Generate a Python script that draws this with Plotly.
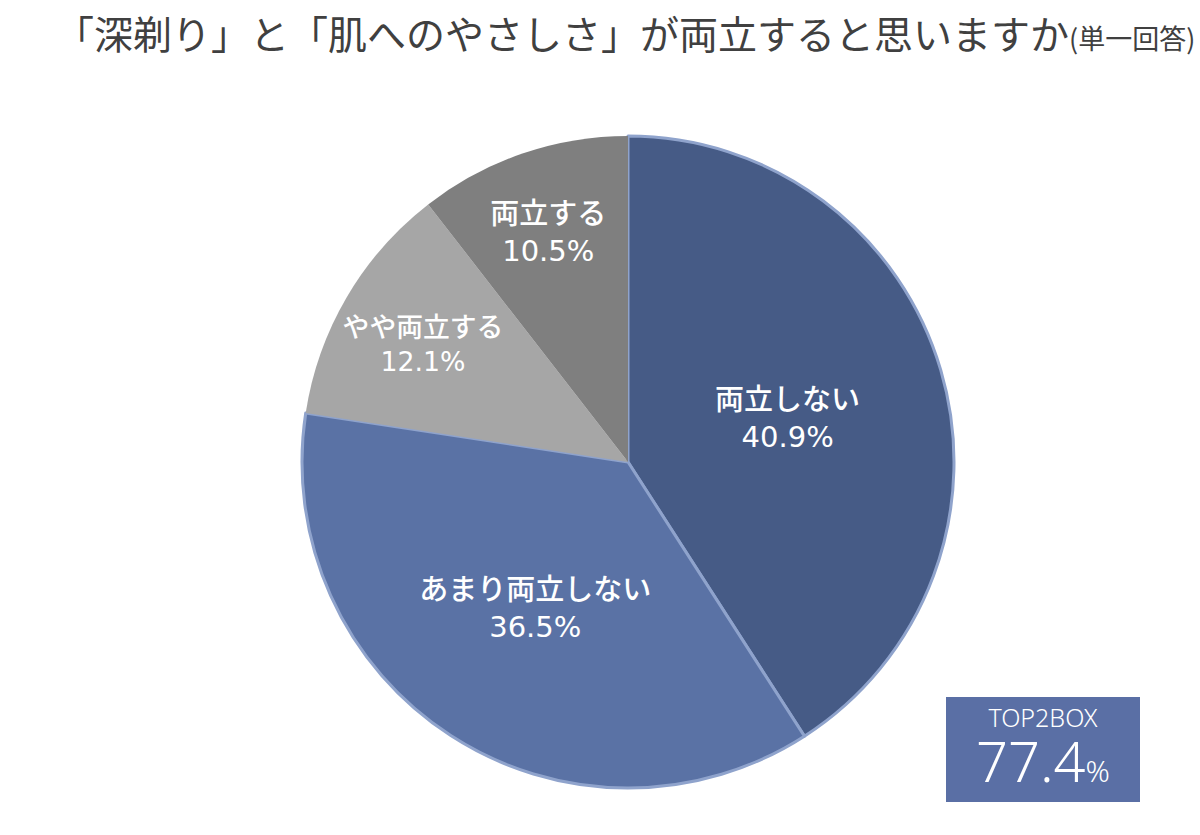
import plotly.graph_objects as go

labels = ["両立しない", "あまり両立しない", "やや両立する", "両立する"]
values = [40.9, 36.5, 12.1, 10.5]
colors = ["#465B86", "#5A72A5", "#A6A6A6", "#7F7F7F"]
line_colors = ["#8FA3CC", "#8FA3CC", "#A6A6A6", "#7F7F7F"]
line_widths = [3, 3, 0, 0]
title_main = "「深剃り」と「肌へのやさしさ」が両立すると思いますか"
title_sub = "(単一回答)"
top2_label = "TOP2BOX"
top2_value = "77.4"

FONT = "Noto Sans CJK JP"

texts = [f"{l}<br><span style='font-family:DejaVu Sans'>{v:.1f}%</span>"
         for l, v in zip(labels, values)]

fig = go.Figure(go.Pie(
    labels=labels,
    values=values,
    sort=False,
    direction="clockwise",
    rotation=0,
    marker=dict(colors=colors, line=dict(color=line_colors, width=line_widths)),
    text=texts,
    textinfo="text",
    textposition="inside",
    insidetextorientation="horizontal",
    textfont=dict(family=FONT, size=29, color="white", weight=500),
    hoverinfo="label+percent",
    domain=dict(x=[(628 - 326) / 1200, (628 + 326) / 1200],
                y=[(835 - 462 - 326) / 835, (835 - 462 + 326) / 835]),
    showlegend=False,
))

fig.add_annotation(
    x=0.521, y=1, xref="paper", yref="paper", xanchor="center", yanchor="top",
    yshift=-2,
    text=f"{title_main}<span style='font-size:27px'>{title_sub}</span>",
    showarrow=False,
    font=dict(family=FONT, size=39, color="#404040"),
)

cx = (946 + 1140) / 2 / 1200
fig.add_shape(type="rect", xref="paper", yref="paper",
              x0=946 / 1200, x1=1140 / 1200, y0=(835 - 802) / 835, y1=(835 - 697) / 835,
              fillcolor="#5A6FA5", line=dict(width=0))
fig.add_annotation(
    x=cx, y=(835 - 749) / 835, xref="paper", yref="paper",
    xanchor="center", yanchor="middle", align="center", borderpad=0,
    text=(f"<span style='font-size:25px'>{top2_label}</span><br><br>"
          f"<span style='font-size:56px'>{top2_value}</span>"
          f"<span style='font-size:30px'>%</span>"),
    showarrow=False,
    font=dict(family="Noto Sans", size=21, color="white", weight=300),
)

fig.update_layout(
    width=1200, height=835,
    margin=dict(l=0, r=0, t=0, b=0),
    paper_bgcolor="white", plot_bgcolor="white",
)

fig.write_html("out.html")
